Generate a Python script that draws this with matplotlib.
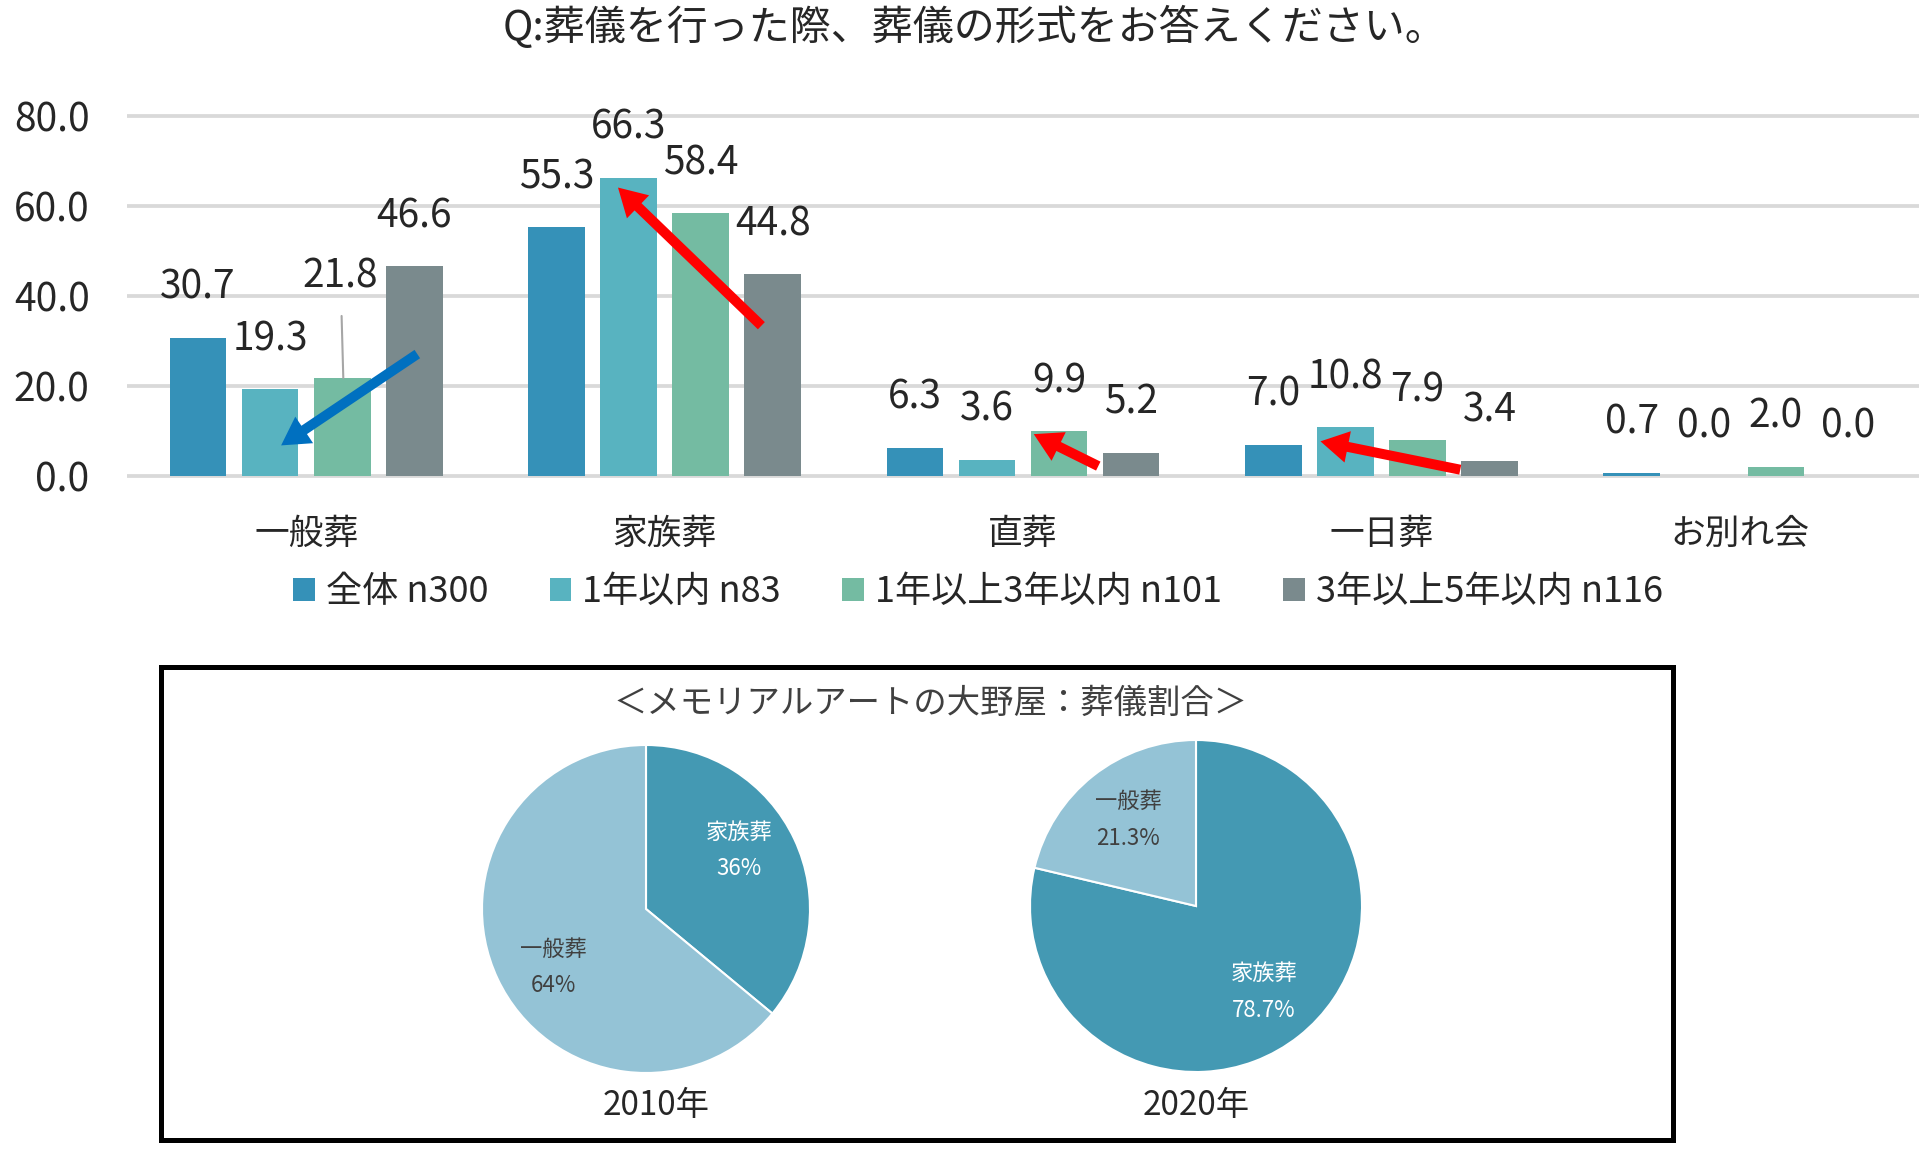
import matplotlib
matplotlib.use("Agg")
import matplotlib.pyplot as plt
from matplotlib.patches import Rectangle
import numpy as np

plt.rcParams['font.family'] = ['Noto Sans CJK JP', 'DejaVu Sans']

# ---------------- data ----------------
title = "Q:葬儀を行った際、葬儀の形式をお答えください。"
categories = ["一般葬", "家族葬", "直葬", "一日葬", "お別れ会"]
series_names = ["全体 n300", "1年以内 n83", "1年以上3年以内 n101", "3年以上5年以内 n116"]
s_all = [30.7, 55.3, 6.3, 7.0, 0.7]
s_1y = [19.3, 66.3, 3.6, 10.8, 0.0]
s_1to3 = [21.8, 58.4, 9.9, 7.9, 2.0]
s_3to5 = [46.6, 44.8, 5.2, 3.4, 0.0]
y_ticks = [0, 20, 40, 60, 80]

box_title = "＜メモリアルアートの大野屋：葬儀割合＞"
pie_years = ["2010年", "2020年"]
pie_names = ["家族葬", "一般葬"]
pie_2010 = [36, 64]
pie_2020 = [78.7, 21.3]

# annotation arrows (data coords: start -> end)
arrow_starts = [(0.31, 27.1), (1.27, 33.4), (2.21, 2.2), (3.22, 1.4)]
arrow_ends = [(-0.07, 6.8), (0.87, 64.1), (2.03, 9.3), (2.83, 7.7)]
arrow_colors = ["#0070c0", "#ff0000", "#ff0000", "#ff0000"]

# ---------------- style ----------------
bar_colors = ["#3591b8", "#58b3c0", "#74bba2", "#7a8a8d"]
pie_colors = ["#4499b3", "#94c3d6"]
pie_text_colors = ["white", "#404040"]
pie_label_shift = [7, 0]      # degrees, label placement tweak per pie
pie_label_dist = [0.67, 0.66]
txt = "#262626"

W, H = 1923, 1153
fig = plt.figure(figsize=(W / 100, H / 100), dpi=100)

# bar axes
y_lo, y_hi = -0.5, 80.5
px_per = (476 - 116) / 80.0
top_px = 116 - (y_hi - 80) * px_per
bot_px = 476 + (0 - y_lo) * px_per
ax = fig.add_axes([127 / W, 1 - bot_px / H, (1919 - 127) / W, (bot_px - top_px) / H])

series = [s_all, s_1y, s_1to3, s_3to5]
x = np.arange(len(categories))
step = 0.201
bw = 0.158
bars_list = []
for i, (vals, col, name) in enumerate(zip(series, bar_colors, series_names)):
    b = ax.bar(x + (i - 1.5) * step, vals, width=bw, color=col, label=name, zorder=2)
    bars_list.append(b)
    for j, rect in enumerate(b):
        v = vals[j]
        cx = rect.get_x() + rect.get_width() / 2
        if i == 2 and j == 0:
            ax.annotate(f"{v:.1f}", xy=(cx + 0.003, v), xytext=(-2, 73),
                        textcoords="offset points", ha="center", va="center",
                        fontsize=28, color=txt,
                        arrowprops=dict(arrowstyle="-", color="#a6a6a6", lw=1.5,
                                        shrinkA=12, shrinkB=0))
        else:
            ax.annotate(f"{v:.1f}", xy=(cx, v), xytext=(0, 36),
                        textcoords="offset points", ha="center", va="center",
                        fontsize=28, color=txt)

ax.set_xlim(-0.5, 4.5)
ax.set_ylim(y_lo, y_hi)
ax.set_yticks(y_ticks)
ax.set_yticklabels([f"{t:.1f}" for t in y_ticks], fontsize=28, color=txt)
ax.set_xticks(x)
ax.set_xticklabels(categories, fontsize=25, color=txt)
ax.tick_params(axis="y", length=0, pad=27)
ax.tick_params(axis="x", length=0, pad=28)
for s in ax.spines.values():
    s.set_visible(False)
ax.yaxis.grid(True, color="#d9d9d9", lw=2.7, zorder=0)
ax.set_axisbelow(True)

for (sx, sy), (ex, ey), c in zip(arrow_starts, arrow_ends, arrow_colors):
    ax.annotate("", xy=(ex, ey), xytext=(sx, sy),
                arrowprops=dict(arrowstyle="simple,head_length=1.0,head_width=1.15,tail_width=0.36",
                                mutation_scale=20, color=c, lw=0, shrinkA=0, shrinkB=0),
                zorder=5)

leg = fig.legend(handles=bars_list, labels=series_names, loc="center",
                 bbox_to_anchor=(978 / W, 1 - 592 / H), ncol=4, frameon=False,
                 fontsize=26, handlelength=0.6, handleheight=0.6,
                 handletextpad=0.3, columnspacing=1.7, borderaxespad=0)
for t in leg.get_texts():
    t.set_color(txt)

fig.text(975 / W, 1 - 27 / H, title, ha="center", va="center", fontsize=29.5, color=txt)

# ---------------- lower box ----------------
fig.add_artist(Rectangle((161 / W, 1 - 1140 / H), (1673 - 161) / W, (1140 - 667) / H,
                         transform=fig.transFigure, fill=False, edgecolor="black", lw=3.6))
fig.text(931 / W, 1 - 703 / H, box_title, ha="center", va="center", fontsize=24, color="#404040")

pie_centers = [(646, 909), (1196, 906)]
pie_radii = [164, 166]
for k, ((cxp, cyp), r, vals, year) in enumerate(zip(pie_centers, pie_radii,
                                                     [pie_2010, pie_2020], pie_years)):
    pax = fig.add_axes([(cxp - r) / W, 1 - (cyp + r) / H, 2 * r / W, 2 * r / H])
    wedges, _ = pax.pie(vals, colors=pie_colors, startangle=90, counterclock=False,
                        wedgeprops=dict(edgecolor="white", linewidth=1.5))
    pax.set_xlim(-1, 1)
    pax.set_ylim(-1, 1)
    pax.set_aspect("auto")
    for w, name, v, tc in zip(wedges, pie_names, vals, pie_text_colors):
        mid = np.deg2rad((w.theta1 + w.theta2) / 2 + pie_label_shift[k])
        d = pie_label_dist[k]
        pax.text(d * np.cos(mid), d * np.sin(mid), f"{name}\n{v:g}%",
                 ha="center", va="center", fontsize=16, color=tc, linespacing=1.75)
    fig.text(cxp / W + (10 / W if k == 0 else 0), 1 - 1105 / H, year,
             ha="center", va="center", fontsize=24, color="#262626")

fig.savefig("out.png", dpi=100)
